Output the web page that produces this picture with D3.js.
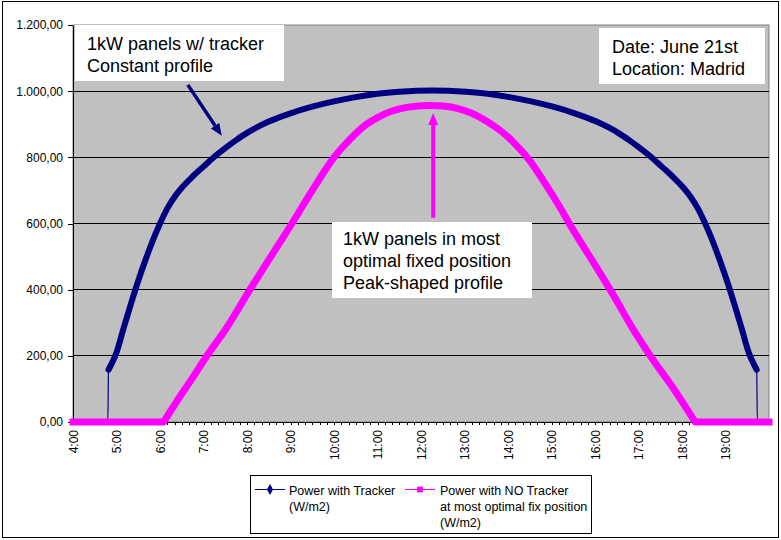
<!DOCTYPE html>
<html lang="en">
<head>
<meta charset="UTF-8">
<title>Power with / without tracker</title>
<script src="https://d3js.org/d3.v7.min.js"></script>
<style>
  body { margin: 0; background: #fff; }
  text { font-family: Arial, "Liberation Sans", sans-serif; }
  .axis text { font-size: 12px; fill: #000; }
  .axis path, .axis line { stroke: #000; shape-rendering: crispEdges; }
  .grid line { stroke: #000; shape-rendering: crispEdges; }
  .note text { font-size: 18px; fill: #000; }
  .legend text { font-size: 12.5px; fill: #000; }
</style>
</head>
<body>
<div id="chart"></div>
<script>
// values (time of day, W/m2)
var trackerTimes = ["4:00", "4:48", "4:49", "5:00", "5:10", "5:20", "5:30", "5:40", "5:50", "6:00",
    "6:10", "6:20", "6:30", "6:45", "7:00", "7:15", "7:30", "7:45", "8:00", "8:30",
    "9:00", "9:30", "10:00", "10:30", "11:00", "11:30", "12:16",
    "13:02", "13:32", "14:02", "14:32", "15:02", "15:32", "16:02", "16:32", "16:47",
    "17:02", "17:17", "17:32", "17:47", "18:02", "18:12", "18:22", "18:32", "18:42",
    "18:52", "19:02", "19:12", "19:22", "19:32", "19:43", "19:44", "20:00"];
var trackerValues = [0, 0, 158, 210, 285, 358, 427, 490, 548, 600,
    645, 680, 708, 742, 772, 802, 828, 852, 874, 908,
    933, 953, 969, 982, 992, 998, 1002,
    998, 992, 982, 969, 953, 933, 908, 874, 852,
    828, 802, 772, 742, 708, 680, 645, 600, 548,
    490, 427, 358, 285, 210, 158, 0, 0];

var fixedTimes = ["4:00", "6:05", "6:23", "6:46", "7:04", "7:32", "8:04", "8:30", "9:02", "9:30",
    "10:00", "10:20", "10:40", "11:00", "11:20", "11:40", "12:00", "12:15", "12:30", "12:50",
    "13:10", "13:30", "13:50", "14:10", "14:30", "14:50", "15:10", "15:30", "16:00", "16:25",
    "16:53", "17:20", "17:48", "18:18", "20:00"];
var fixedValues = [0, 0, 62, 137, 198, 285, 400, 490, 600, 700,
    800, 850, 892, 920, 940, 951, 956, 957, 955, 948,
    933, 910, 880, 840, 790, 725, 655, 580, 475, 385,
    279, 188, 102, 0, 0];

var yTicks = [0, 200, 400, 600, 800, 1000, 1200];
var hourLabels = ["4:00", "5:00", "6:00", "7:00", "8:00", "9:00", "10:00", "11:00", "12:00",
    "13:00", "14:00", "15:00", "16:00", "17:00", "18:00", "19:00"];
var legendLines = [
    ["Power with Tracker", "(W/m2)"],
    ["Power with NO Tracker", "at most optimal fix position", "(W/m2)"]
];

var W = 781, H = 540;
var margin = { left: 73, top: 25, right: 12, bottom: 118 };
var width = W - margin.left - margin.right,
    height = H - margin.top - margin.bottom;

function toHours(s) {
    var p = s.split(":");
    return +p[0] + (+p[1]) / 60;
}

var trackerData = trackerTimes.map(function (t, i) { return { t: toHours(t), v: trackerValues[i] }; });
var fixedData = fixedTimes.map(function (t, i) { return { t: toHours(t), v: fixedValues[i] }; });

var x = d3.scaleLinear().domain([4, 20]).range([0, width]);
var y = d3.scaleLinear().domain([0, 1200]).range([height, 0]);

var locale = d3.formatLocale({ decimal: ",", thousands: ".", grouping: [3], currency: ["", ""] });
var fmt = locale.format(",.2f");

var svg = d3.select("#chart").append("svg")
    .attr("width", W)
    .attr("height", H);

svg.append("rect")
    .attr("x", 2.5).attr("y", 1.5)
    .attr("width", 776).attr("height", 536)
    .attr("fill", "#fff").attr("stroke", "#000");

var g = svg.append("g").attr("transform", "translate(" + margin.left + "," + margin.top + ")");

g.append("rect")
    .attr("width", width).attr("height", height)
    .attr("fill", "#c0c0c0").attr("stroke", "#808080");

g.append("g").attr("class", "grid")
    .selectAll("line")
    .data(yTicks.filter(function (d) { return d > 0 && d < 1200; }))
    .enter().append("line")
    .attr("x1", 0).attr("x2", width)
    .attr("y1", function (d) { return y(d); })
    .attr("y2", function (d) { return y(d); });

g.append("g").attr("class", "axis")
    .call(d3.axisLeft(y).tickValues(yTicks).tickSize(5).tickSizeOuter(0).tickPadding(5).tickFormat(fmt));

// a tick every 10 minutes, a label every hour
var minorTicks = d3.range(0, 97).map(function (i) { return 4 + i / 6; });
var xAxis = g.append("g").attr("class", "axis")
    .attr("transform", "translate(0," + height + ")")
    .call(d3.axisBottom(x).tickValues(minorTicks).tickSize(3).tickSizeOuter(0)
        .tickFormat(function (d, i) { return (i % 6 === 0 && hourLabels[i / 6]) ? hourLabels[i / 6] : ""; }));
xAxis.selectAll("text")
    .attr("transform", "rotate(-90)")
    .attr("text-anchor", "end")
    .attr("x", -8).attr("y", 0)
    .attr("dy", "0.35em");

var line = d3.line()
    .x(function (d) { return x(d.t); })
    .y(function (d) { return y(d.v); })
    .curve(d3.curveMonotoneX);

// split a series at the ends of its flat zero runs so the corners stay sharp
function pieces(data) {
    var out = [], cur = [data[0]];
    for (var i = 1; i < data.length; i++) {
        cur.push(data[i]);
        var next = data[i + 1], prevZero = data[i - 1].v === 0;
        if (data[i].v === 0 && next && ((prevZero && next.v > 0) || (!prevZero && next.v === 0))) {
            out.push(cur);
            cur = [data[i]];
        }
    }
    out.push(cur);
    return out.map(function (p, k) { var s = line(p); return k ? "L" + s.slice(1) : s; }).join("");
}

// tracker: thin line everywhere, dense markers where power > 0
g.append("path").attr("d", line(trackerData))
    .attr("fill", "none").attr("stroke", "#000080").attr("stroke-width", 1.2);
g.append("path").attr("d", line(trackerData.filter(function (d) { return d.v > 0; })))
    .attr("fill", "none").attr("stroke", "#000080").attr("stroke-width", 6)
    .attr("stroke-linecap", "round").attr("stroke-linejoin", "round");

g.append("path").attr("d", pieces(fixedData))
    .attr("fill", "none").attr("stroke", "#ff00ff").attr("stroke-width", 7)
    .attr("stroke-linecap", "square").attr("stroke-linejoin", "round");

// arrows
function arrow(x1, y1, x2, y2, color, sw, hl, hw) {
    var a = Math.atan2(y2 - y1, x2 - x1);
    var bx = x2 - hl * Math.cos(a), by = y2 - hl * Math.sin(a);
    g.append("line")
        .attr("x1", x1).attr("y1", y1).attr("x2", bx).attr("y2", by)
        .attr("stroke", color).attr("stroke-width", sw);
    var px = Math.sin(a) * hw / 2, py = -Math.cos(a) * hw / 2;
    g.append("path")
        .attr("d", "M" + x2 + "," + y2 + "L" + (bx + px) + "," + (by + py) + "L" + (bx - px) + "," + (by - py) + "Z")
        .attr("fill", color);
}
arrow(x(6.64), y(1019), x(7.42), y(865), "#000080", 3.5, 12, 10);
arrow(x(12.28), y(617), x(12.28), y(934), "#ff00ff", 4, 12, 10);

// note boxes
function note(bx, by, bw, bh, lines, tx, ty) {
    var n = g.append("g").attr("class", "note");
    n.append("rect").attr("x", bx).attr("y", by).attr("width", bw).attr("height", bh).attr("fill", "#fff");
    n.selectAll("text").data(lines).enter().append("text")
        .attr("x", tx).attr("y", function (d, i) { return ty + i * 22; })
        .text(function (d) { return d; });
}
note(2, 0, 209, 56, ["1kW panels w/ tracker", "Constant profile"], 14, 25);
note(526, 3, 166, 56, ["Date: June 21st", "Location: Madrid"], 539, 28);
note(259, 197, 200, 76, ["1kW panels in most", "optimal fixed position", "Peak-shaped profile"], 270, 220);

// legend
var lg = svg.append("g").attr("class", "legend");
lg.append("rect").attr("x", 250.5).attr("y", 475.5).attr("width", 341).attr("height", 58)
    .attr("fill", "#fff").attr("stroke", "#000");
var items = [
    { color: "#000080", x0: 255, text: 289, shape: d3.symbolDiamond },
    { color: "#ff00ff", x0: 405, text: 440, shape: d3.symbolSquare }
];
items.forEach(function (it, k) {
    lg.append("line").attr("x1", it.x0).attr("x2", it.x0 + 30).attr("y1", 489.5).attr("y2", 489.5)
        .attr("stroke", it.color);
    lg.append("path").attr("d", d3.symbol().type(it.shape).size(34)())
        .attr("transform", "translate(" + (it.x0 + 15) + ",489.5)").attr("fill", it.color);
    lg.selectAll(".t" + k).data(legendLines[k]).enter().append("text")
        .attr("x", it.text).attr("y", function (d, i) { return 495 + i * 16; })
        .text(function (d) { return d; });
});
</script>
</body>
</html>
